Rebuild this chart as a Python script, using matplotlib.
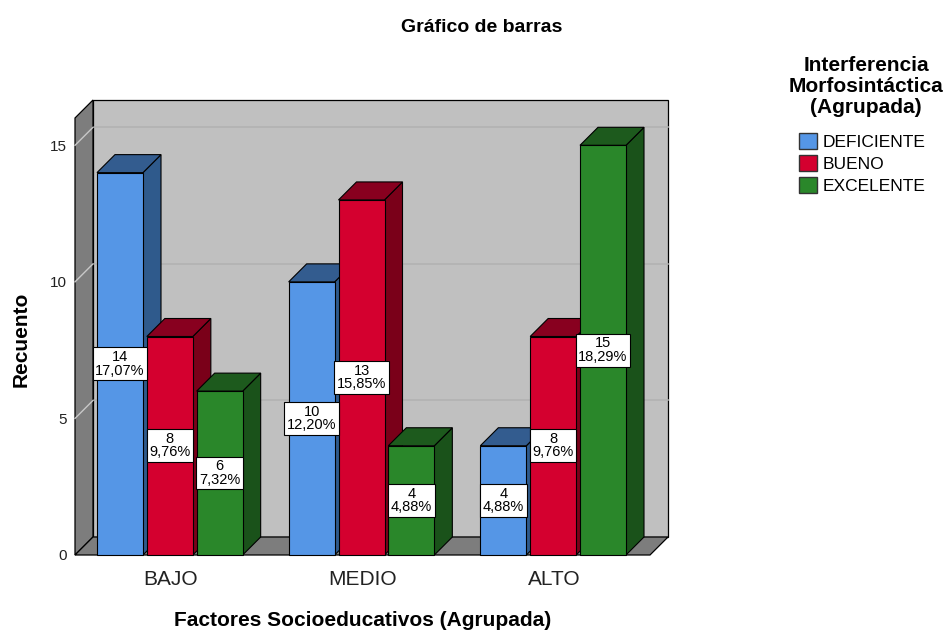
import matplotlib
matplotlib.use("Agg")
import matplotlib.pyplot as plt
from matplotlib.patches import Polygon, Rectangle, Patch

plt.rcParams['font.family'] = ['Liberation Sans', 'DejaVu Sans']

# Data
categories = ["BAJO", "MEDIO", "ALTO"]
series = ["DEFICIENTE", "BUENO", "EXCELENTE"]
deficiente = [14, 10, 4]
bueno = [8, 13, 8]
excelente = [6, 4, 15]
pct_deficiente = ["17,07%", "12,20%", "4,88%"]
pct_bueno = ["9,76%", "15,85%", "9,76%"]
pct_excelente = ["7,32%", "4,88%", "18,29%"]
yticks = [0, 5, 10, 15]

counts = [deficiente, bueno, excelente]
pcts = [pct_deficiente, pct_bueno, pct_excelente]

# front / side / top colours for each series
front = ["#5596e6", "#d4002f", "#2a872a"]
side = ["#2f5a8c", "#7a0019", "#1a521a"]
top = ["#335c8f", "#88001f", "#1d5a1d"]

W, H = 949, 632
fig = plt.figure(figsize=(W / 100, H / 100), dpi=100)

# axes = front plane of the 3D box
left_px, right_px, bottom_px, top_px = 75, 650, 555, 118
ax = fig.add_axes([left_px / W, 1 - bottom_px / H,
                   (right_px - left_px) / W, (bottom_px - top_px) / H])
ymax = 16
ax.set_xlim(0, 3)
ax.set_ylim(0, ymax)

# depth offset (18 px right, 18 px up) in data units
dx = 18 / ((right_px - left_px) / 3)
dy = 18 / ((bottom_px - top_px) / ymax)

wall_kw = dict(edgecolor="black", linewidth=0.9, clip_on=False)
# back wall
ax.add_patch(Rectangle((dx, dy), 3, ymax, facecolor="#c0c0c0", zorder=1, **wall_kw))
# left wall
ax.add_patch(Polygon([(0, 0), (0, ymax), (dx, ymax + dy), (dx, dy)],
                     facecolor="#7d7d7d", zorder=2, **wall_kw))
# floor
ax.add_patch(Polygon([(0, 0), (3, 0), (3 + dx, dy), (dx, dy)],
                     facecolor="#7d7d7d", zorder=2, **wall_kw))

# grid lines on back wall and left wall
for v in yticks[1:]:
    ax.plot([dx, 3 + dx], [v + dy, v + dy], color="#b2b2b2", lw=1.2, zorder=1.5, clip_on=False)
    ax.plot([0, dx], [v, v + dy], color="#c8c8c8", lw=1.0, zorder=2.5, clip_on=False)

# bars
bw = 0.24
step = 0.26
offset0 = 22 / ((right_px - left_px) / 3)
z = 3
for i in range(len(categories)):
    for j in range(len(series)):
        v = counts[j][i]
        x0 = i + offset0 + j * step
        x1 = x0 + bw
        bar_kw = dict(edgecolor="black", linewidth=0.8, clip_on=False, zorder=z)
        ax.add_patch(Polygon([(x1, 0), (x1, v), (x1 + dx, v + dy), (x1 + dx, dy)],
                             facecolor=side[j], **bar_kw))
        ax.add_patch(Polygon([(x0, v), (x1, v), (x1 + dx, v + dy), (x0 + dx, v + dy)],
                             facecolor=top[j], **bar_kw))
        ax.add_patch(Rectangle((x0, 0), bw, v, facecolor=front[j], **bar_kw))
        z += 1

# value labels (drawn on top of all bars)
for i in range(len(categories)):
    for j in range(len(series)):
        v = counts[j][i]
        xc = i + offset0 + j * step + bw / 2
        ax.text(xc, v / 2, f"{v}\n{pcts[j][i]}", ha="center", va="center",
                fontsize=10.5, linespacing=0.95, zorder=50,
                bbox=dict(boxstyle="square,pad=0.18", facecolor="white",
                          edgecolor="black", linewidth=0.8))

for s in ax.spines.values():
    s.set_visible(False)
ax.set_facecolor("none")
ax.set_yticks(yticks)
ax.set_yticklabels([str(t) for t in yticks], fontsize=11, color="#222222")
ax.set_xticks([0.5, 1.5, 2.5])
ax.set_xticklabels(categories, fontsize=15, color="#222222")
ax.tick_params(axis="y", length=0, pad=6)
ax.tick_params(axis="x", length=0, pad=11)

ax.set_ylabel("Recuento", fontsize=15, fontweight="bold")
ax.yaxis.set_label_coords(-0.078, 0.494)
ax.set_xlabel("Factores Socioeducativos (Agrupada)", fontsize=15, fontweight="bold")
ax.xaxis.set_label_coords(0.5, -0.128)

fig.text(482 / W, 1 - 27 / H, "Gráfico de barras", ha="center", va="center",
         fontsize=14, fontweight="bold")

# legend
fig.text(866 / W, 1 - 56 / H, "Interferencia\nMorfosintáctica\n(Agrupada)",
         ha="center", va="top", fontsize=15, fontweight="bold", linespacing=1.12)
handles = [Patch(facecolor=front[j], edgecolor="#333333", linewidth=1.0) for j in range(3)]
fig.legend(handles, series, loc="upper left", bbox_to_anchor=(799 / W, 1 - 133 / H),
           frameon=False, fontsize=12.5, handlelength=1.05, handleheight=1.05,
           handletextpad=0.3, labelspacing=0.3, borderpad=0, borderaxespad=0)

fig.savefig("out.png", dpi=100)
